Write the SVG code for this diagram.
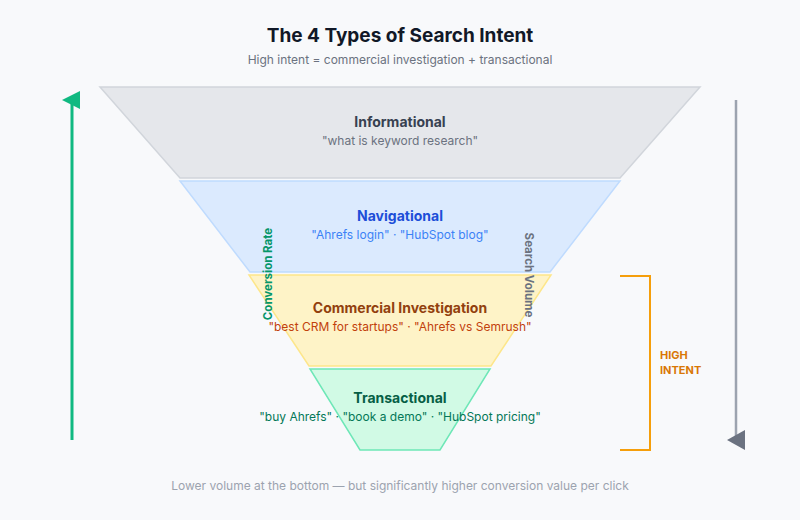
<svg xmlns="http://www.w3.org/2000/svg" width="800" height="520" viewBox="0 0 800 520">
<style>
text{font-family:Inter,"Liberation Sans",sans-serif}
.t{font-size:14px;font-weight:700;text-anchor:middle}
.s{font-size:12px;text-anchor:middle}
</style>
<rect width="800" height="520" fill="#f8f9fb"/>
<text x="400" y="42" font-size="19" font-weight="700" text-anchor="middle" fill="#111827">The 4 Types of Search Intent</text>
<text x="400" y="64" class="s" font-size="13" fill="#6b7280">High intent = commercial investigation + transactional</text>
<g id="informational"><polygon points="100,87 700,87 620,178 180,178" fill="#e5e7eb" stroke="#d1d5db" stroke-width="1.5"/>
<text x="400" y="127" class="t" fill="#374151">Informational</text><text x="400" y="145" class="s" fill="#6b7280">"what is keyword research"</text></g>
<g id="navigational"><polygon points="180,181 620,181 550,272 250,272" fill="#dbeafe" stroke="#bfdbfe" stroke-width="1.5"/>
<text x="400" y="221" class="t" fill="#1d4ed8">Navigational</text><text x="400" y="239" class="s" fill="#3b82f6">"Ahrefs login" · "HubSpot blog"</text></g>
<g id="commercial"><polygon points="249,275 551,275 491,366 309,366" fill="#fef3c7" stroke="#fde68a" stroke-width="1.5"/>
<text x="400" y="313" class="t" fill="#92400e">Commercial Investigation</text><text x="400" y="331" class="s" fill="#c2410c">"best CRM for startups" · "Ahrefs vs Semrush"</text></g>
<g id="transactional"><polygon points="310,369 490,369 440,450 360,450" fill="#d1fae5" stroke="#6ee7b7" stroke-width="1.5"/>
<text x="400" y="403" class="t" fill="#065f46">Transactional</text><text x="400" y="421" class="s" fill="#047857">"buy Ahrefs" · "book a demo" · "HubSpot pricing"</text></g>
<g id="connectors">
<line x1="72" y1="440" x2="72" y2="100" stroke="#10b981" stroke-width="3"/>
<polygon points="62,100 80,91 80,109" fill="#10b981"/>
<line x1="736" y1="100" x2="736" y2="440" stroke="#9ca3af" stroke-width="2.5"/>
<polygon points="727,440 745,430 745,450" fill="#6b7280"/>
<polyline points="620,276 650,276 650,450 620,450" fill="none" stroke="#f59e0b" stroke-width="2"/>
</g>
<text transform="translate(272,274) rotate(-90)" font-size="11.5" font-weight="700" text-anchor="middle" fill="#059669">Conversion Rate</text>
<text transform="translate(525,275) rotate(90)" font-size="11.5" font-weight="700" text-anchor="middle" fill="#6b7280">Search Volume</text>
<text x="660" y="359" font-size="11" font-weight="700" fill="#d97706">HIGH</text>
<text x="660" y="374" font-size="11" font-weight="700" fill="#d97706">INTENT</text>
<text x="400" y="490" class="s" fill="#9ca3af">Lower volume at the bottom — but significantly higher conversion value per click</text>
</svg>
